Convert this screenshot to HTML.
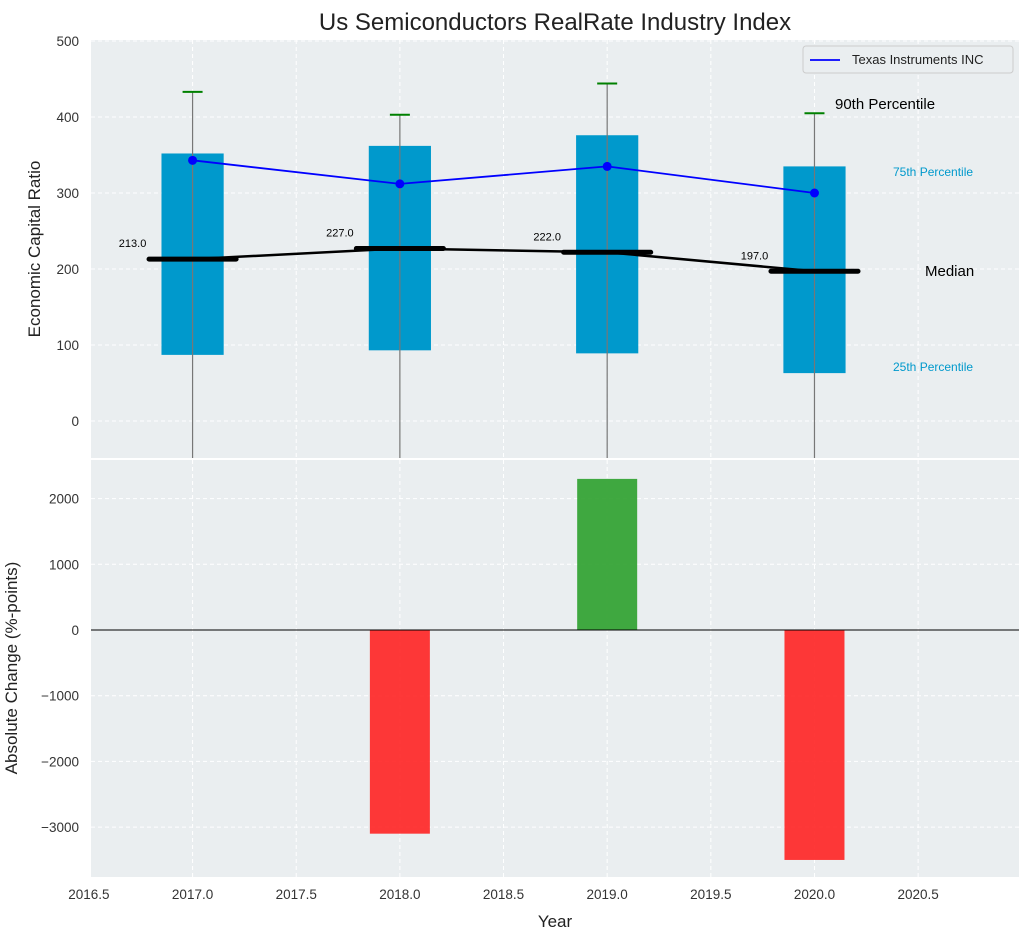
<!DOCTYPE html>
<html><head><meta charset="utf-8"><style>
body{margin:0;background:#fff;font-family:"Liberation Sans",sans-serif}
</style></head><body>
<svg id="c" width="1029" height="940" xmlns="http://www.w3.org/2000/svg" font-family="Liberation Sans, sans-serif"></svg>
<script>
const years=[2017,2018,2019,2020];
const p25=[87,93,89,63];
const p75=[352,362,376,335];
const p90=[433,403,444,405];
const medians=[213,227,222,197];
const ti=[343,312,335,300];
const changes=[0,-3100,2300,-3500];
const xTicks=[2016.5,2017.0,2017.5,2018.0,2018.5,2019.0,2019.5,2020.0,2020.5];
const yTopTicks=[0,100,200,300,400,500];
const yBotTicks=[-3000,-2000,-1000,0,1000,2000];

const svg=document.getElementById('c');
const NS='http://www.w3.org/2000/svg';
function el(t,a,p){const e=document.createElementNS(NS,t);for(const k in a)e.setAttribute(k,a[k]);(p||svg).appendChild(e);return e;}
const L=91,R=1019,T1=40,B1=458,T2=460,B2=877;
const x=v=>L+(v-2016.51)*207.3;
const y1=v=>421+(0-v)*0.76;
const y2=v=>630-v*0.0657;
let bg=el('rect',{x:L,y:T1,width:R-L,height:B1-T1,fill:'#eaeef0'});

let bg2=el('rect',{x:L,y:T2,width:R-L,height:B2-T2,fill:'#eaeef0'});

xTicks.forEach(t=>{
 el('line',{x1:x(t),x2:x(t),y1:T1,y2:B1,stroke:'#fff','stroke-dasharray':'4,3'});
 el('line',{x1:x(t),x2:x(t),y1:T2,y2:B2,stroke:'#fff','stroke-dasharray':'4,3'});
 const tx=el('text',{x:x(t),y:B2+22,'text-anchor':'middle','font-size':13.5,fill:'#333'});tx.textContent=t.toFixed(1);
 
});
yTopTicks.forEach(t=>{
 el('line',{x1:L,x2:R,y1:y1(t),y2:y1(t),stroke:'#fff','stroke-dasharray':'4,3'});
 const tx=el('text',{x:L-12,y:y1(t)+5,'text-anchor':'end','font-size':13.5,fill:'#333'});tx.textContent=t;
 
});
yBotTicks.forEach(t=>{
 el('line',{x1:L,x2:R,y1:y2(t),y2:y2(t),stroke:'#fff','stroke-dasharray':'4,3'});
 const tx=el('text',{x:L-12,y:y2(t)+5,'text-anchor':'end','font-size':13.5,fill:'#333'});tx.textContent=t<0?'\u2212'+(-t):t;
 
});
const bw=x(2017.15)-x(2017);
years.forEach((yr,i)=>{
 const cx=x(yr);
 const b=el('rect',{x:cx-bw,y:y1(p75[i]),width:2*bw,height:y1(p25[i])-y1(p75[i]),fill:'#0099cc'});
 
 el('line',{x1:cx,x2:cx,y1:y1(p90[i]),y2:B1,stroke:'#777','stroke-width':1.2});
 const cap=el('line',{x1:cx-10,x2:cx+10,y1:y1(p90[i]),y2:y1(p90[i]),stroke:'green','stroke-width':2});
 
});
el('polyline',{points:years.map((yr,i)=>x(yr)+','+y1(medians[i])).join(' '),fill:'none',stroke:'#000','stroke-width':2.5});
years.forEach((yr,i)=>{
 const m=el('line',{x1:x(yr-0.21),x2:x(yr+0.21),y1:y1(medians[i]),y2:y1(medians[i]),stroke:'#000','stroke-width':5,'stroke-linecap':'round'});
 
 const t=el('text',{x:x(yr)-60,y:y1(medians[i])-12,'text-anchor':'middle','font-size':11,fill:'#000'});t.textContent=medians[i].toFixed(1);
 
});
const tl=el('polyline',{points:years.map((yr,i)=>x(yr)+','+y1(ti[i])).join(' '),fill:'none',stroke:'blue','stroke-width':1.8});

years.forEach((yr,i)=>{const c=el('circle',{cx:x(yr),cy:y1(ti[i]),r:4.5,fill:'blue'});
 });
[['90th Percentile',835,109,15,'#000'],['75th Percentile',893,176,12,'#0099cc'],['Median',925,276,15,'#000'],['25th Percentile',893,371,12,'#0099cc']].forEach(a=>{
 const t=el('text',{x:a[1],y:a[2],'font-size':a[3],fill:a[4]});t.textContent=a[0];
 
});
const lg=el('g',{});
el('rect',{x:803,y:46,width:210,height:27,fill:'#eaeef0',stroke:'#ccc',rx:3},lg);
el('line',{x1:810,x2:840,y1:60,y2:60,stroke:'blue','stroke-width':1.8},lg);
const lt=el('text',{x:852,y:64,'font-size':13,fill:'#222'},lg);lt.textContent='Texas Instruments INC';
years.forEach((yr,i)=>{
 const v=changes[i];if(!v)return;
 const r=el('rect',{x:x(yr)-30,y:Math.min(y2(0),y2(v)),width:60,height:Math.abs(y2(v)-y2(0)),fill:v>0?'#2ca02c':'#ff2222','fill-opacity':0.9});
 
});
el('line',{x1:L,x2:R,y1:y2(0),y2:y2(0),stroke:'#000','stroke-width':1});
const tt=el('text',{x:555,y:30,'text-anchor':'middle','font-size':24,fill:'#222'});tt.textContent='Us Semiconductors RealRate Industry Index';

const xt=el('text',{x:555,y:927,'text-anchor':'middle','font-size':17,fill:'#222'});xt.textContent='Year';

const yt=el('text',{x:0,y:0,'text-anchor':'middle','font-size':17,fill:'#222',transform:'translate(40,249) rotate(-90)'});yt.textContent='Economic Capital Ratio';

const yb=el('text',{x:0,y:0,'text-anchor':'middle','font-size':17,fill:'#222',transform:'translate(17,668) rotate(-90)'});yb.textContent='Absolute Change (%-points)';

</script>
</body></html>
